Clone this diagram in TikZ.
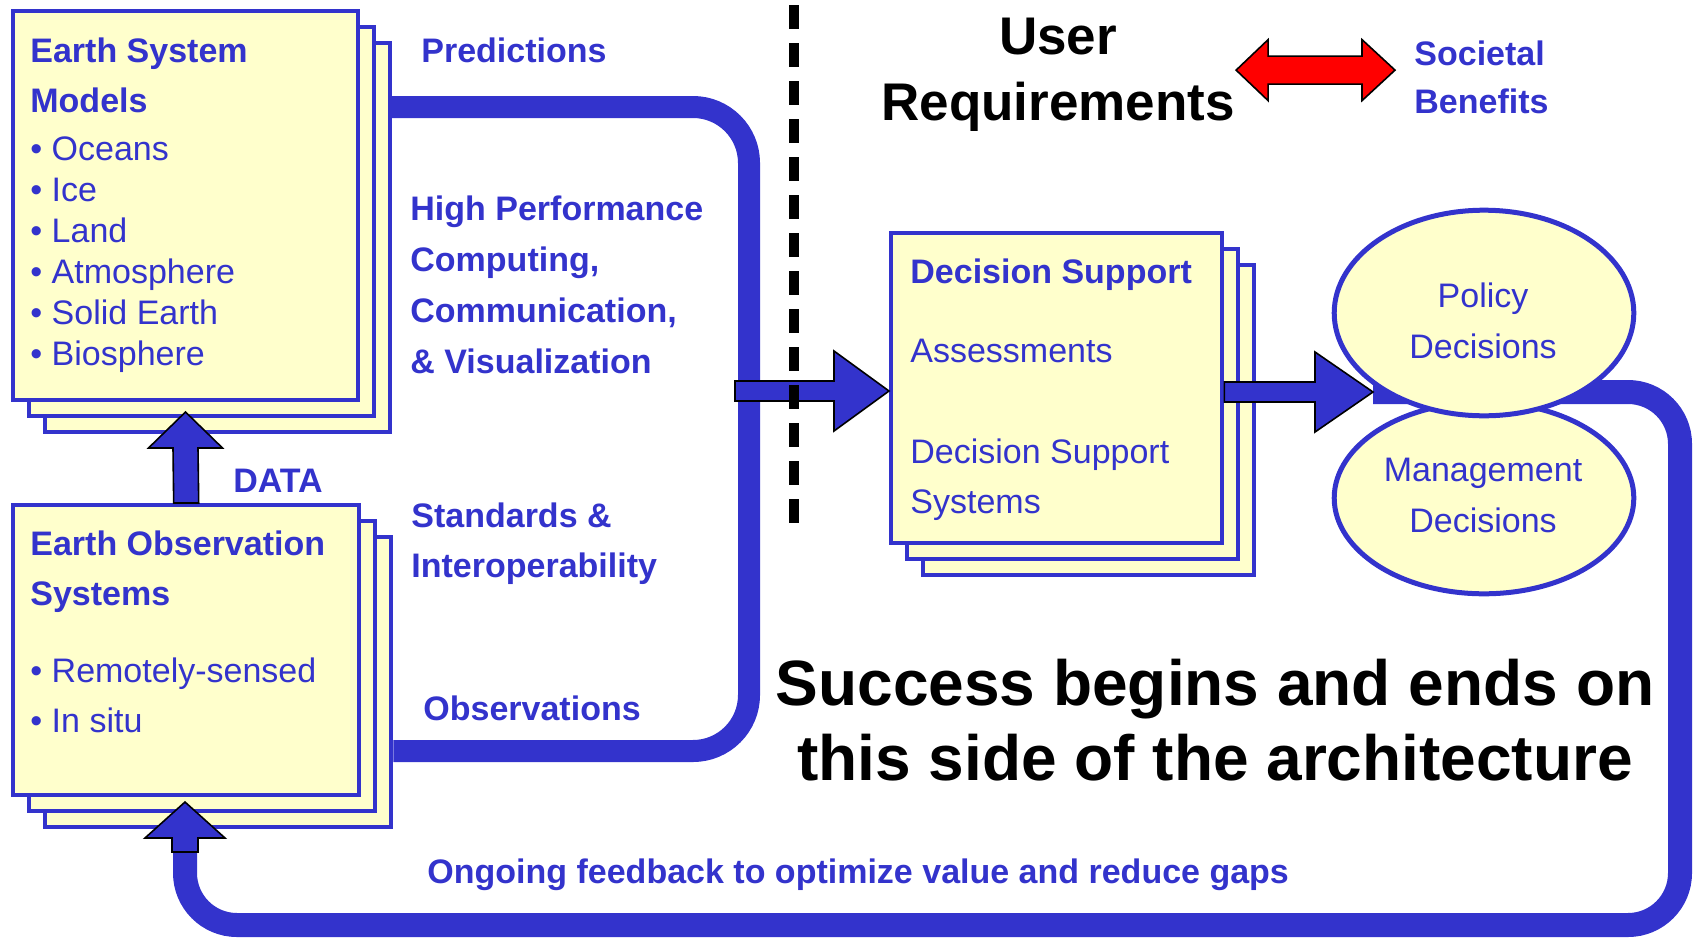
\documentclass[tikz,border=0pt]{standalone}
\usepackage{fontspec}
\setmainfont{Liberation Sans}
\usetikzlibrary{calc,shapes.geometric}
\definecolor{geoblue}{RGB}{51,51,204}
\definecolor{paper}{RGB}{255,255,204}

\begin{document}
\begin{tikzpicture}[x=0.5pt,y=-0.5pt]
            \tikzstyle{sheet} = [draw=geoblue, line width=2.2pt, fill=paper, inner sep=0pt, anchor=north west]
            \tikzstyle{esmbox} = [sheet, minimum width=172.3pt, minimum height=194.3pt]
            \tikzstyle{eosbox} = [sheet, minimum width=173pt, minimum height=145pt]
            \tikzstyle{dssbox} = [sheet, minimum width=165.5pt, minimum height=155pt]
            \tikzstyle{blob} = [ellipse, draw=geoblue, line width=2.5pt, fill=paper, inner sep=0pt, minimum width=149.8pt]
            \tikzstyle{pipe} = [draw=geoblue, line width=11pt, rounded corners=28pt]
            \tikzstyle{bigarrow} = [fill=geoblue, draw=black, line width=0.8pt, line join=miter]
            \tikzstyle{txt} = [text=geoblue, inner sep=0pt, font=\fontsize{17}{20.5}\selectfont, align=left]
            \tikzstyle{lbl} = [text=geoblue, inner sep=0pt, font=\fontsize{17}{25.5}\selectfont\bfseries, align=left]
            \tikzstyle{headline} = [inner sep=0pt, font=\fontsize{26.5}{33}\selectfont\bfseries, align=center]

            \useasboundingbox (0,0) rectangle (1695,937);

            \coordinate (ptop) at (749,107);
            \coordinate (pbot) at (749,751);
            \coordinate (hub) at (735,391);
            \coordinate (meet) at (1373,392);
            \coordinate (fbase) at (185,852);

            \node [esmbox] (esm3) at (43,41) {};
            \node [eosbox] (eos3) at (43,535) {};
            \draw [pipe] (esm3.east |- ptop) -- (ptop) -- (pbot) -- (eos3.east |- pbot);
            \draw [pipe, line width=12pt, rounded corners=26pt] (meet) -| (1680,925) -| (fbase);

            \node [esmbox] (esm2) at (27,25) {};
            \node [esmbox] (esm) at (11,9) {};
            \node [eosbox] (eos2) at (27,519) {};
            \node [eosbox] (eos) at (11,503) {};
            \node [dssbox] (dss3) at (921,263) {};
            \node [dssbox] (dss2) at (905,247) {};
            \node [dssbox] (dss) at (889,231) {};

            \node [blob, minimum height=95.8pt] (mgmt) at (1484,498) {};
            \node [blob, minimum height=102.8pt] (policy) at (1484,313) {};

            \filldraw [bigarrow] (dss.west |- hub) -- ++(-55,-40) -- ++(0,30) -- ($(hub)+(0,-10)$) -- ++(0,20)
                -- ($(dss.west |- hub)+(-55,10)$) -- ++(0,30) -- cycle;
            \filldraw [bigarrow] (meet) -- ++(-58,-40) -- ++(0,30) -- ($(dss.east |- meet)+(0,-10)$) -- ++(0,20)
                -- ($(meet)+(-58,10)$) -- ++(0,30) -- cycle;
            \filldraw [bigarrow] ($(esm.south)+(0,10)$) -- ++(37,36) -- ++(-24.5,0) -- ($(eos.north)+(12.5,0)$) -- ++(-25,0)
                -- ($(esm.south)+(-12.5,46)$) -- ++(-24.5,0) -- cycle;
            \filldraw [bigarrow] ($(fbase)+(0,-50)$) -- ++(40,36) -- ++(-27,0) -- ($(fbase)+(13,0)$) -- ++(-26,0)
                -- ($(fbase)+(-13,-14)$) -- ++(-27,0) -- cycle;

            \draw [black, line width=5pt, dash pattern=on 12pt off 7pt] (794,5) -- (794,530);

            \node [txt, anchor=north west] (esmtxt) at (30,37.5) {\textbf{Earth System}\\[4.5pt]\textbf{Models}\\[3.5pt]• Oceans\\• Ice\\• Land\\• Atmosphere\\• Solid Earth\\• Biosphere};
            \node [txt, anchor=north west, font=\fontsize{17}{25}\selectfont] (eostxt) at (30,530.5) {\textbf{Earth Observation}\\\textbf{Systems}\\[13.5pt]• Remotely-sensed\\• In situ};
            \node [txt, anchor=north west, font=\fontsize{17}{25}\selectfont] (dsstxt) at (910,258.5) {\textbf{Decision Support}\\[14.5pt]Assessments\\[25.5pt]Decision Support\\Systems};
            \node [txt, anchor=north, align=center, font=\fontsize{17}{25.5}\selectfont] (poltxt) at (1483,282.5) {Policy\\Decisions};
            \node [txt, anchor=north, align=center, font=\fontsize{17}{25.5}\selectfont] (mgmttxt) at (1483,457.5) {Management\\Decisions};

            \node [lbl, anchor=base west] (pred) at (421,62) {Predictions};
            \node [lbl, anchor=north west] (hpc) at (410,195.5) {High Performance\\Computing,\\Communication,\\\& Visualization};
            \node [lbl, anchor=north west, font=\fontsize{17}{25}\selectfont\bfseries] (std) at (411,502.5) {Standards \&\\Interoperability};
            \node [lbl, anchor=base west] (obs) at (423,720) {Observations};
            \node [lbl, anchor=base west] (data) at (233,492) {DATA};
            \node [lbl, anchor=base west] (fbtxt) at (427,883) {Ongoing feedback to optimize value and reduce gaps};
            \node [lbl, anchor=north west, font=\fontsize{17}{24}\selectfont\bfseries] (soc) at (1414,40.5) {Societal\\Benefits};

            \node [headline, anchor=north] (ureq) at (1058,18) {User\\Requirements};
            \node [headline, anchor=north, font=\fontsize{32}{37.5}\selectfont\bfseries] (succ) at (1215,659) {Success begins and ends on\\this side of the architecture};

            \coordinate (rl) at ($(ureq.east)+(1,-5)$);
            \coordinate (rr) at ($(soc.west |- rl)+(-19,0)$);
            \filldraw [fill=red, draw=black, line width=0.8pt] (rl) -- ++(32,-30.5) -- ++(0,16.5) -- ($(rr)+(-33,-14)$) -- ++(0,-16.5)
                -- (rr) -- ++(-33,30.5) -- ++(0,-16.5) -- ($(rl)+(32,14)$) -- ++(0,16.5) -- cycle;
        \end{tikzpicture}
\end{document}
